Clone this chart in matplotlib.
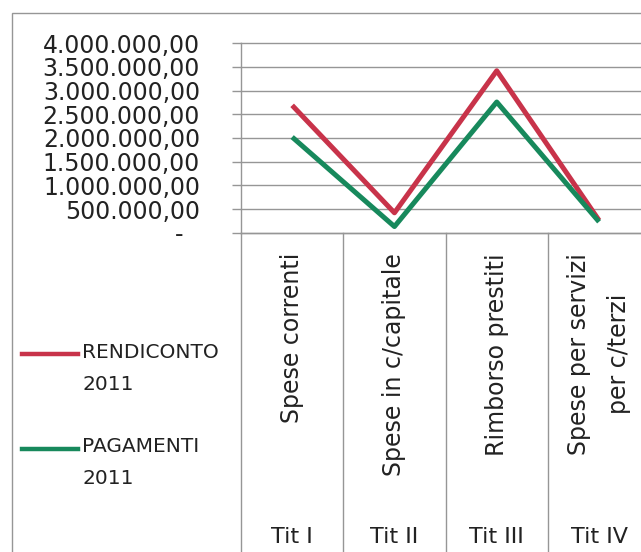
import matplotlib
matplotlib.use("Agg")
import matplotlib.pyplot as plt
from matplotlib.lines import Line2D
from matplotlib.patches import Rectangle

# spese per titolo, rendiconto vs pagamenti 2011
categorie = ["Spese correnti", "Spese in c/capitale", "Rimborso prestiti",
             "Spese per servizi\nper c/terzi"]
titoli = ["Tit I", "Tit II", "Tit III", "Tit IV"]
rendiconto = [2690000, 420000, 3420000, 260000]
pagamenti = [2020000, 130000, 2760000, 230000]
y_ticks = [0, 500000, 1000000, 1500000, 2000000, 2500000, 3000000, 3500000, 4000000]

serie = ["RENDICONTO\n2011", "PAGAMENTI\n2011"]
colori = ["#c8334a", "#17895c"]
grigio = "#969696"
testo = "#222222"

W, H = 641, 552
fig = plt.figure(figsize=(W / 100, H / 100), dpi=100)
plt.rcParams["font.family"] = "DejaVu Sans"

# plot area in pixel terms (axis runs past the right edge)
left, top, zero, col = 241, 43.3, 232.7, 102.3
ax = fig.add_axes([left / W, 1 - zero / H, 4 * col / W, (zero - top) / H])

x = range(len(titoli))
ax.plot(x, rendiconto, color=colori[0], lw=3.6, solid_capstyle="butt", zorder=3)
ax.plot(x, pagamenti, color=colori[1], lw=3.6, solid_capstyle="butt", zorder=4)

ax.set_xlim(-0.5, 3.5)
ax.set_ylim(0, 4000000)
ax.set_xticks([])
ax.set_yticks(y_ticks)


def formato(v):
    if v == 0:
        return "-"
    s = f"{v:,.2f}"
    return s.replace(",", "X").replace(".", ",").replace("X", ".")


ax.set_yticklabels([formato(v) for v in y_ticks], fontsize=17, color=testo)
ax.yaxis.grid(True, color=grigio, lw=1.0)
for g in ax.get_ygridlines():
    g.set_clip_on(False)
ax.tick_params(axis="y", length=6.5, width=1.0, color=grigio, pad=23)
ax.yaxis.get_major_ticks()[0].set_pad(35)
for s in ["top", "right"]:
    ax.spines[s].set_visible(False)
for s in ["left", "bottom"]:
    ax.spines[s].set_color(grigio)
    ax.spines[s].set_linewidth(1.0)

# column separators and category labels below the zero line
fondo = -(H - zero) / (zero - top)
trans = ax.get_xaxis_transform()
for i in range(len(titoli) + 1):
    ax.plot([i - 0.5, i - 0.5], [0, fondo], color=grigio, lw=1.0,
            transform=trans, clip_on=False)
for i, (c, t) in enumerate(zip(categorie, titoli)):
    ax.text(i, -(253 - zero) / (zero - top), c, rotation=90, ha="center",
            va="top", multialignment="center", linespacing=1.8,
            fontsize=17, color=testo, transform=trans)
    ax.text(i, -(537 - zero) / (zero - top), t, ha="center", va="center",
            fontsize=16, color=testo, transform=trans)

# outer frame
fig.add_artist(Rectangle((11.7 / W, -0.1), 1.2, 1 - 13.3 / H + 0.1,
                         transform=fig.transFigure, fill=False,
                         edgecolor=grigio, lw=1.0))

# legend drawn by hand, line level with first text row
for lab, colore, yl, yt in zip(serie, colori, [354, 449], [352, 446]):
    fig.add_artist(Line2D([22 / W, 78 / W], [1 - yl / H, 1 - yl / H],
                          color=colore, lw=3.2, transform=fig.transFigure))
    riga1, riga2 = lab.split("\n")
    fig.text(82 / W, 1 - yt / H, riga1, fontsize=14.5, va="center",
             color=testo)
    fig.text(82 / W, 1 - (yt + 33) / H, riga2, fontsize=14.5, va="center",
             color=testo)

fig.savefig("out.png", dpi=100)
